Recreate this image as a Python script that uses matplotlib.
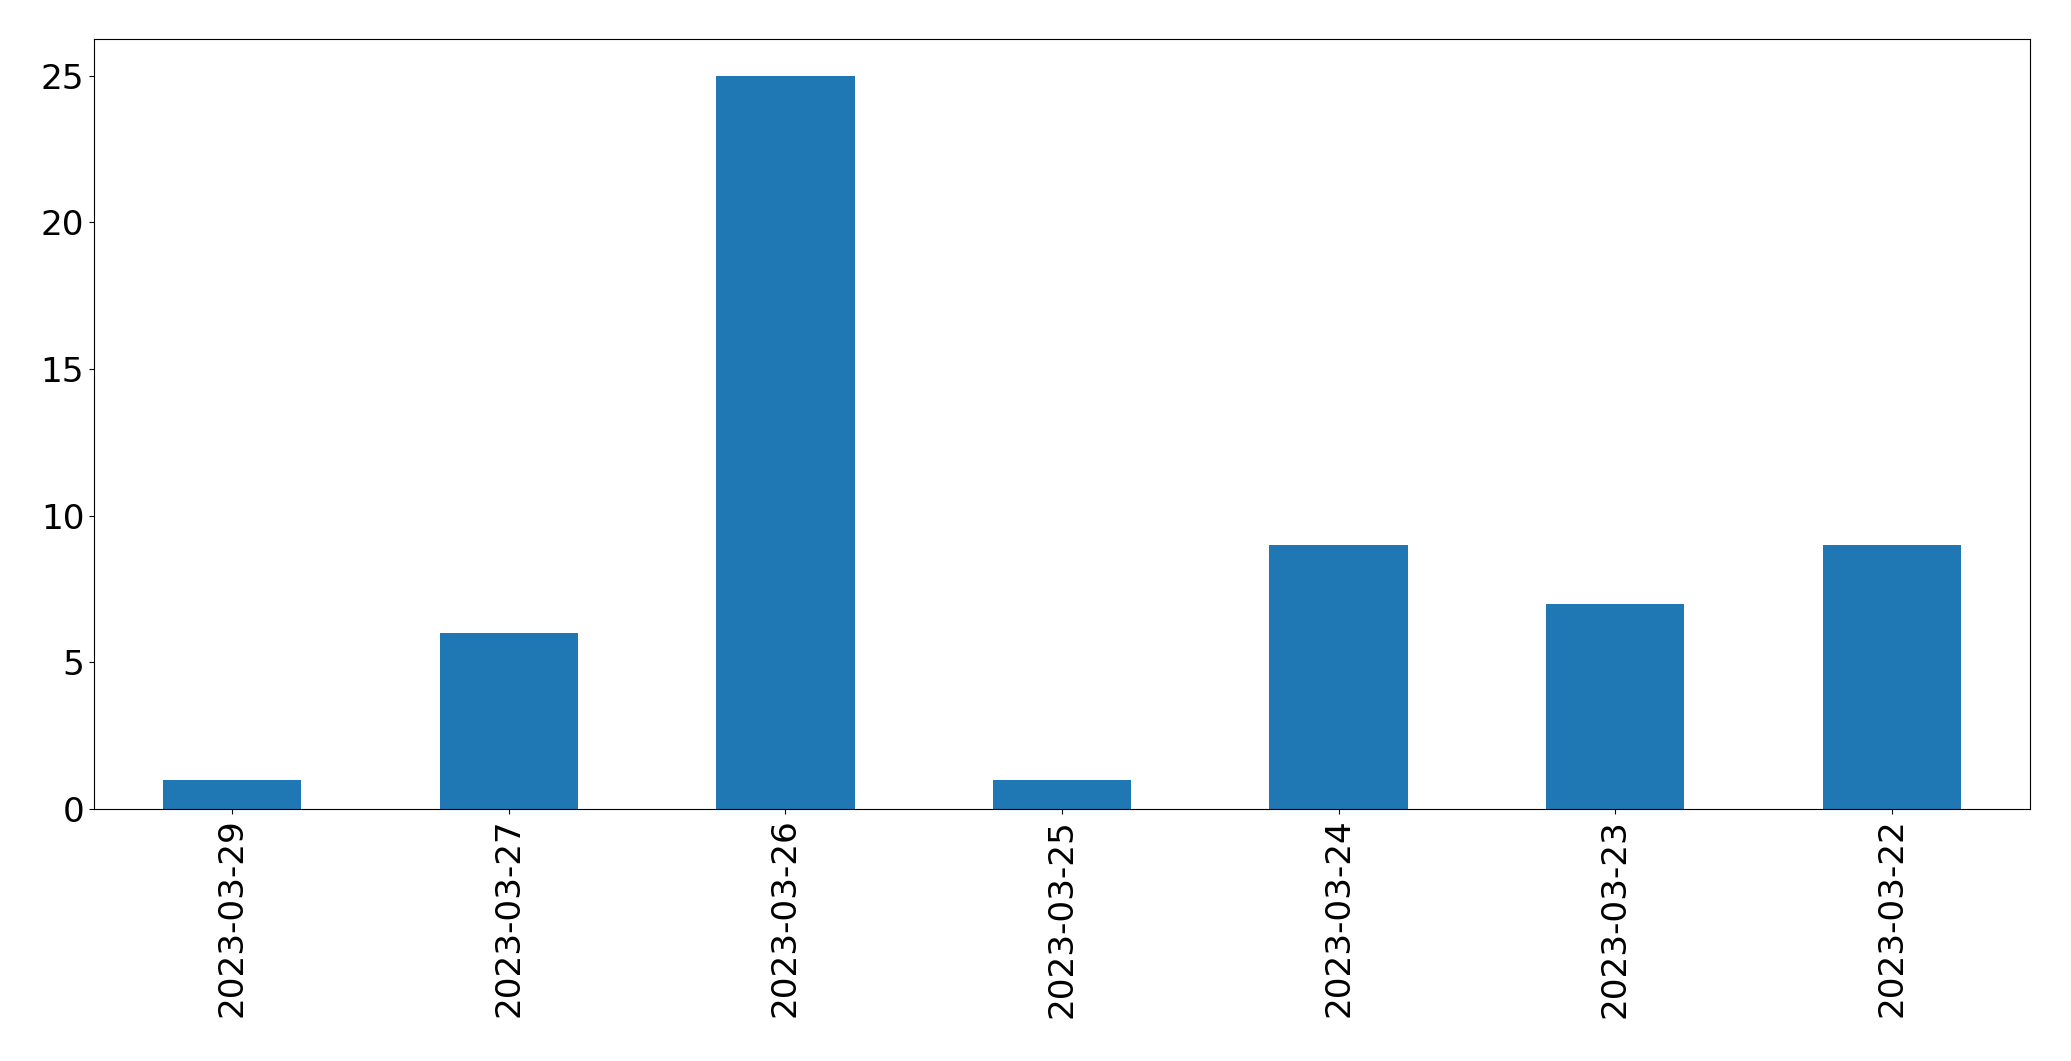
import matplotlib
matplotlib.use("Agg")
import matplotlib.pyplot as plt
import pandas as pd

# counts per date, in the order shown
dates = ["2023-03-29", "2023-03-27", "2023-03-26", "2023-03-25",
         "2023-03-24", "2023-03-23", "2023-03-22"]
counts = [1, 6, 25, 1, 9, 7, 9]

s = pd.Series(counts, index=dates)

fig = plt.figure(figsize=(20.71, 10.61), dpi=100)
ax = fig.add_axes([0.0454, 0.2375, 0.9348, 0.7257])
s.plot.bar(ax=ax, color="#1f77b4", width=0.5)
ax.tick_params(axis="both", labelsize=24.7)

plt.savefig("out.png", dpi=100)
